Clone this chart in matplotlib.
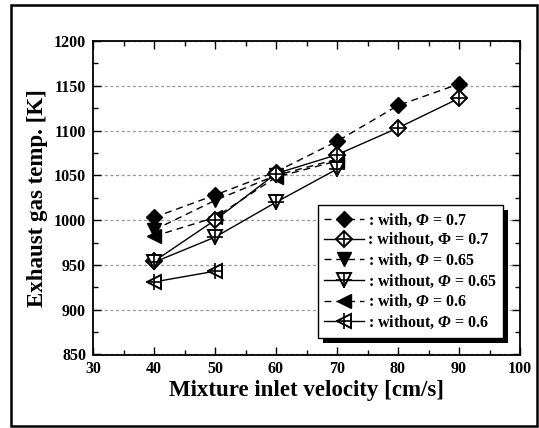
import matplotlib
matplotlib.use('Agg')
import matplotlib.pyplot as plt
from matplotlib.patches import Rectangle
from matplotlib.transforms import IdentityTransform
from matplotlib.legend_handler import HandlerTuple
from matplotlib.ticker import MultipleLocator

plt.rcParams['font.family'] = 'Liberation Serif'
plt.rcParams['font.weight'] = 'bold'
plt.rcParams['mathtext.fontset'] = 'custom'
plt.rcParams['mathtext.rm'] = 'Liberation Serif:italic:bold'
plt.rcParams['mathtext.it'] = 'Liberation Serif:italic:bold'
plt.rcParams['mathtext.bf'] = 'Liberation Serif:bold'

# ---- data ----
vel_07 = [40, 50, 60, 70, 80, 90]
with_07 = [1003, 1028, 1054, 1088, 1128, 1152]
without_07 = [954, 1000, 1052, 1073, 1103, 1136]
vel_065 = [40, 50, 60, 70]
with_065 = [989, 1022, 1050, 1068]
without_065 = [953, 981, 1020, 1057]
vel_06_with = [40, 50, 60, 70]
with_06 = [982, 1003, 1048, 1066]
vel_06_without = [40, 50]
without_06 = [931, 943]

labels = [': with, $\\Phi$ = 0.7',
          ': without, \u03a6 = 0.7',
          ': with, $\\Phi$ = 0.65',
          ': without, $\\Phi$ = 0.65',
          ': with, $\\Phi$ = 0.6',
          ': without, $\\Phi$ = 0.6']

W, H = 539, 428
fig = plt.figure(figsize=(W / 100, H / 100), dpi=100)
ax = fig.add_axes([93 / W, 1 - 354.5 / H, (520 - 93) / W, (354.5 - 41) / H])

dash = (0, (5, 3.5))
handles = []

def series(x, y, marker, filled, ms):
    ls = dash if filled else '-'
    if filled:
        ln, = ax.plot(x, y, ls=ls, lw=1.0, color='k', marker=marker, ms=ms,
                      mfc='k', mec='k', mew=1.0, zorder=3)
        return ln
    ln, = ax.plot(x, y, ls=ls, lw=1.0, color='k', marker=marker, ms=ms,
                  mfc='white', mec='k', mew=1.4, zorder=4)
    pl, = ax.plot(x, y, ls='none', marker='+', ms=ms + 1.5, mec='k', mew=1.2, zorder=4)
    return (ln, pl)

handles.append(series(vel_07, with_07, 'D', True, 8.5))
handles.append(series(vel_07, without_07, 'D', False, 8.5))
handles.append(series(vel_065, with_065, 'v', True, 10))
handles.append(series(vel_065, without_065, 'v', False, 10))
handles.append(series(vel_06_with, with_06, '<', True, 10))
handles.append(series(vel_06_without, without_06, '<', False, 10))

ax.set_xlim(30, 100)
ax.set_ylim(850, 1200)
ax.xaxis.set_major_locator(MultipleLocator(10))
ax.xaxis.set_minor_locator(MultipleLocator(5))
ax.yaxis.set_major_locator(MultipleLocator(50))
ax.yaxis.set_minor_locator(MultipleLocator(25))
ax.tick_params(which='both', direction='in', top=True, right=True, width=1.0,
               labelsize=11.5, pad=5)
ax.tick_params(which='major', length=6)
ax.tick_params(which='minor', length=3.5)
for s in ax.spines.values():
    s.set_linewidth(1.3)
ax.yaxis.grid(True, which='major', ls=(0, (2.5, 2)), color='#9a9a9a', lw=0.9)
ax.set_axisbelow(True)

ax.set_xlabel('Mixture inlet velocity [cm/s]', fontsize=16.5, fontweight='bold', labelpad=2)
ax.set_ylabel('Exhaust gas temp. [K]', fontsize=16.5, fontweight='bold', labelpad=4)

leg = ax.legend(handles, labels, loc='upper left',
                bbox_to_anchor=(318 / W, 1 - 205 / H), bbox_transform=fig.transFigure,
                borderaxespad=0, fancybox=False, framealpha=1, edgecolor='k',
                fontsize=11.5, handlelength=2.5, handletextpad=0.2,
                labelspacing=0.22, borderpad=0.4,
                handler_map={tuple: HandlerTuple(ndivide=1)})
leg.get_frame().set_linewidth(1.0)
leg.set_zorder(6)

fig.canvas.draw()
bb = leg.get_window_extent()
ax.add_patch(Rectangle((bb.x0 + 5, bb.y0 - 5), bb.width, bb.height,
                       transform=IdentityTransform(), facecolor='k',
                       edgecolor='none', zorder=5.5, clip_on=False))

fig.patches.append(Rectangle((11 / W, 1 - 426 / H), (537 - 11) / W, (426 - 5) / H,
                             transform=fig.transFigure, fill=False,
                             edgecolor='k', lw=1.8, zorder=10))

fig.savefig('out.png', dpi=100)
